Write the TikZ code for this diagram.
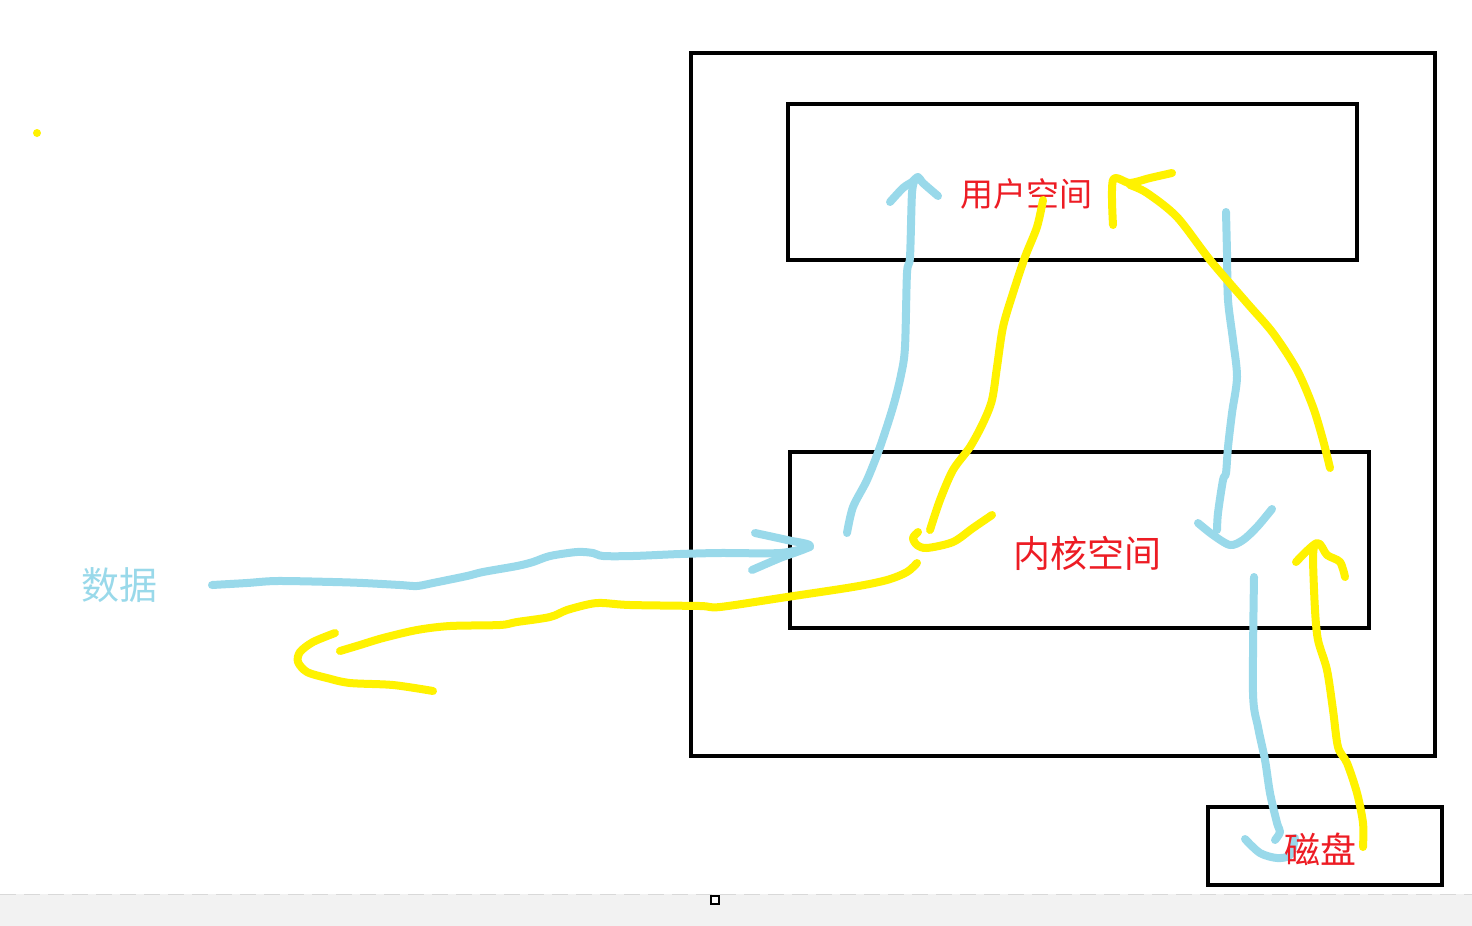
\documentclass[tikz,border=0pt]{standalone}
\usepackage{fontspec}
\newfontfamily\cjk{Noto Sans CJK SC}
\definecolor{pblue}{HTML}{99D9EA}
\definecolor{pyellow}{HTML}{FFF200}
\definecolor{pred}{HTML}{ED1C24}
\definecolor{stripgray}{HTML}{F2F2F2}
\definecolor{dashgray}{HTML}{D9D9D9}
\begin{document}
\begin{tikzpicture}[x=0.5pt,y=-0.5pt,
  frame/.style={draw=black,line width=2pt},
  bluepen/.style={draw=pblue,line width=4pt,line cap=round,line join=round},
  yellowpen/.style={draw=pyellow,line width=4pt,line cap=round,line join=round},
  label/.style={inner sep=0pt,font=\cjk}]
\useasboundingbox (0,0) rectangle (1472,926);
\fill[white] (0,0) rectangle (1472,926);
% bottom strip
\fill[stripgray] (0,894) rectangle (1472,926);
\draw[dashgray,line width=0.8pt,dash pattern=on 8pt off 4pt] (0,894.5) -- (1472,894.5);
\draw[black,line width=1pt,fill=white] (710.5,895.5) rectangle (718.5,903.5);
% boxes
\draw[frame] (691,53) rectangle (1435,756);
\draw[frame] (788,104) rectangle (1357,260);
\draw[frame] (790,452) rectangle (1369,628);
\draw[frame] (1208,807) rectangle (1442,885);
% yellow dot
\fill[pyellow] (37,133) circle (4);
% blue strokes
\draw[bluepen] plot[smooth,tension=0.5] coordinates {(212,585) (247,583) (277,581) (333,582) (363,583) (400,585) (417,586) (433,583) (467,576) (483,572) (517,566) (533,562) (550,556) (577,552) (593,553) (603,556) (633,556) (680,554) (720,553) (780,553) (810,547)};
\draw[bluepen] plot[smooth,tension=0.5] coordinates {(755,533) (787,540) (810,546) (780,558) (752,570)};
\draw[bluepen] plot[smooth,tension=0.5] coordinates {(847,533) (853,507) (867,480) (880,447) (893,407) (901,375) (905,347) (907,273) (910,257) (912,193) (915,180)};
\draw[bluepen] plot[smooth,tension=0.5] coordinates {(890,202) (903,188) (912,182) (918,177) (923,183) (938,196)};
\draw[bluepen] plot[smooth,tension=0.5] coordinates {(1226,212) (1227,253) (1228,300) (1233,340) (1237,377) (1232,413) (1228,447) (1226,473) (1223,480) (1218,513) (1217,530)};
\draw[bluepen] plot[smooth,tension=0.5] coordinates {(1198,523) (1213,535) (1230,545) (1243,540) (1257,527) (1272,509)};
\draw[bluepen] plot[smooth,tension=0.5] coordinates {(1254,577) (1253,693) (1258,727) (1265,760) (1270,793) (1277,823) (1280,832) (1275,840)};
\draw[bluepen] plot[smooth,tension=0.5] coordinates {(1245,839) (1260,853) (1277,858) (1290,855) (1295,838)};
% texts
\node[label,text=pblue,font=\cjk\fontsize{19pt}{19pt}\selectfont] (data) at (119,585) {数据};
\node[label,text=pred,font=\cjk\fontsize{16.5pt}{16.5pt}\selectfont] (user) at (1026,194) {用户空间};
\node[label,text=pred,font=\cjk\fontsize{18.5pt}{18.5pt}\selectfont] (kernel) at (1087,553) {内核空间};
\node[label,text=pred,font=\cjk\fontsize{18pt}{18pt}\selectfont] (disk) at (1320,849) {磁盘};
% yellow strokes
\draw[yellowpen] plot[smooth,tension=0.5] coordinates {(1043,200) (1037,227) (1025,257) (1013,293) (1003,327) (997,367) (992,400) (983,423) (970,447) (953,470) (940,500) (930,530)};
\draw[yellowpen] plot[smooth,tension=0.5] coordinates {(918,532) (913,538) (917,545) (927,548) (953,542) (973,528) (992,515)};
\draw[yellowpen] plot[smooth,tension=0.5] coordinates {(917,563) (907,572) (887,580) (853,587) (787,597) (720,607) (700,606) (630,605) (603,603) (590,604) (567,610) (550,617) (517,622) (500,625) (450,626) (417,630) (383,638) (360,645) (340,651)};
\draw[yellowpen] plot[smooth,tension=0.5] coordinates {(335,633) (313,642) (300,652) (298,662) (307,672) (327,678) (350,683) (393,685) (433,691)};
\draw[yellowpen] plot[smooth,tension=0.5] coordinates {(1330,468) (1323,440) (1313,407) (1297,370) (1273,333) (1247,303) (1210,260) (1177,217) (1147,193) (1130,185)};
\draw[yellowpen] plot[smooth,tension=0.5] coordinates {(1113,225) (1113,180) (1130,183) (1150,178) (1172,173)};
\draw[yellowpen] plot[smooth,tension=0.5] coordinates {(1363,847) (1363,823) (1357,793) (1347,763) (1338,747) (1333,710) (1327,670) (1318,640) (1315,610) (1313,560) (1314,547)};
\draw[yellowpen] plot[smooth,tension=0.5] coordinates {(1296,562) (1317,543) (1327,555) (1340,562) (1345,577)};
\end{tikzpicture}
\end{document}
